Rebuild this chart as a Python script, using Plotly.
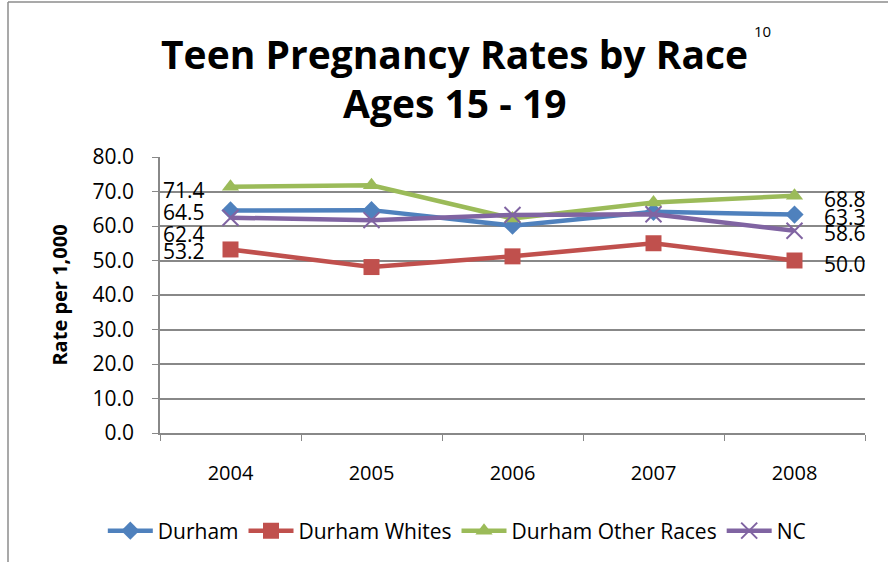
import plotly.graph_objects as go

years = ["2004", "2005", "2006", "2007", "2008"]
durham = [64.5, 64.6, 60.1, 64.1, 63.3]
durham_whites = [53.2, 48.1, 51.2, 55.0, 50.0]
durham_other = [71.4, 71.8, 62.2, 66.8, 68.8]
nc = [62.4, 61.7, 63.2, 63.4, 58.6]

series_names = ["Durham", "Durham Whites", "Durham Other Races", "NC"]
series_vals = [durham, durham_whites, durham_other, nc]
colors = ["#4F81BD", "#C0504D", "#9BBB59", "#8064A2"]
symbols = ["diamond", "square", "triangle-up", "x-thin"]
marker_sizes = [14, 16, 15, 16]
left_shift = [-2, -2, -3, -16]   # label y shifts (px, + is up) at first point
right_shift = [-2, -3, -3, -2]   # label y shifts (px, + is up) at last point

FONT = "Open Sans, Liberation Sans, sans-serif"

fig = go.Figure()
for name, vals, c, s, ms in zip(series_names, series_vals, colors, symbols, marker_sizes):
    mk = dict(symbol=s, size=ms, color=c)
    if s == "x-thin":
        mk["line"] = dict(color=c, width=2)
    fig.add_trace(go.Scatter(x=years, y=vals, name=name, mode="lines+markers",
                             line=dict(color=c, width=4.5), marker=mk))

annotations = []
last = len(years) - 1
for vals, ls, rs in zip(series_vals, left_shift, right_shift):
    annotations.append(dict(x=0, y=vals[0], text=f"{vals[0]:.1f}", showarrow=False,
                            xanchor="right", xshift=-24, yshift=ls,
                            font=dict(family=FONT, size=21, color="black")))
    annotations.append(dict(x=last, y=vals[-1], text=f"{vals[-1]:.1f}", showarrow=False,
                            xanchor="left", xshift=27, yshift=rs,
                            font=dict(family=FONT, size=21, color="black")))

annotations.append(dict(xref="paper", yref="paper", x=0.418, y=1.375, text="<b>Teen Pregnancy Rates by Race</b>",
                        showarrow=False, xanchor="center", yanchor="middle",
                        font=dict(family=FONT, size=39, color="black")))
annotations.append(dict(xref="paper", yref="paper", x=0.418, y=1.197, text="<b>Ages 15 - 19</b>",
                        showarrow=False, xanchor="center", yanchor="middle",
                        font=dict(family=FONT, size=39, color="black")))
annotations.append(dict(xref="paper", yref="paper", x=0.855, y=1.458, text="10",
                        showarrow=False, xanchor="center", yanchor="middle",
                        font=dict(family=FONT, size=15, color="black")))

fig.update_layout(
    width=888, height=562,
    margin=dict(l=160, r=23, t=157, b=129, autoexpand=False),
    paper_bgcolor="white", plot_bgcolor="white",
    font=dict(family=FONT, size=18, color="black"),
    showlegend=True,
    legend=dict(orientation="h", x=0.421, xanchor="center", y=-0.355, yanchor="middle",
                font=dict(family=FONT, size=21), itemwidth=45, tracegroupgap=0),
    xaxis=dict(type="category", range=[-0.5, 4.5], showgrid=False, showline=True,
               linecolor="#888888", linewidth=1.5, ticks="outside", tickson="boundaries",
               ticklen=6, tickcolor="#888888", tickfont=dict(size=20), zeroline=False,
               ticklabelstandoff=21),
    yaxis=dict(range=[0, 80], dtick=10, tickformat=".1f", showgrid=True, gridcolor="#888888",
               gridwidth=1.5, showline=True, linecolor="#888888", linewidth=1.5,
               ticks="outside", ticklen=6, tickcolor="#888888", tickfont=dict(size=21),
               zeroline=False, ticklabelstandoff=14,
               title=dict(text="<b>Rate per 1,000</b>", font=dict(size=20), standoff=20)),
    annotations=annotations,
    shapes=[
        dict(type="line", xref="paper", yref="paper", x0=(8 - 160) / 705, x1=(8 - 160) / 705,
             y0=(433 - 562) / 276, y1=(433 - 2) / 276, line=dict(color="#8c8c8c", width=1.5)),
        dict(type="line", xref="paper", yref="paper", x0=(8 - 160) / 705, x1=(888 - 160) / 705,
             y0=(433 - 2) / 276, y1=(433 - 2) / 276, line=dict(color="#8c8c8c", width=1.5)),
    ],
)

fig.write_html("out.html")
